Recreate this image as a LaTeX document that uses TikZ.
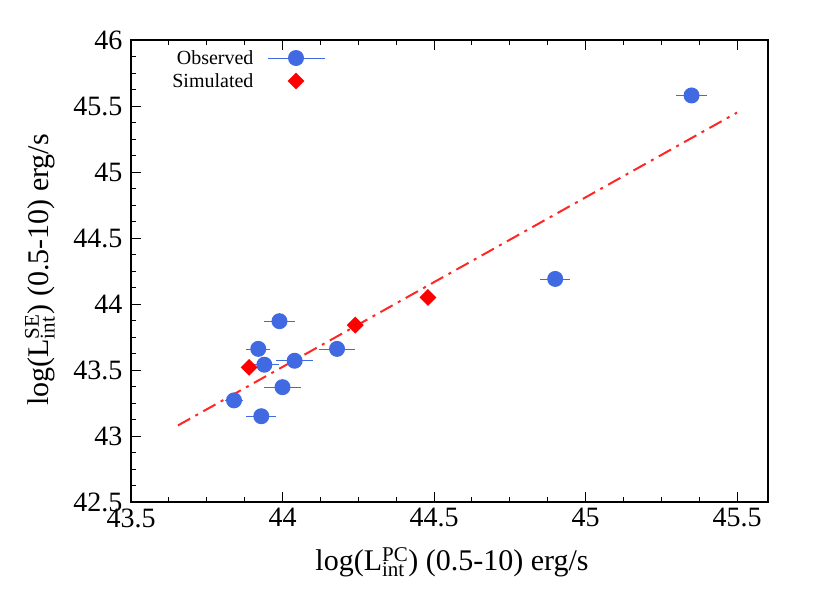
\documentclass[tikz,border=0pt]{standalone}
\usepackage{fontspec}
\setmainfont{Liberation Serif}
\begin{document}
\begin{tikzpicture}[x=1pt,y=-1pt,
  obs/.style={circle,fill=obsblue,inner sep=0pt,minimum size=16pt},
  sim/.style={diamond,fill=red,inner sep=0pt,minimum size=17pt},
  ebar/.style={draw=obsblue,line width=0.6pt},
  tick/.style={line width=1pt},
  ticklab/.style={font=\fontsize{28}{30}\selectfont}]
\usetikzlibrary{shapes.geometric}
\definecolor{obsblue}{RGB}{65,105,225}
\useasboundingbox (0,0) rectangle (830,606);
% mapping
\def\X#1{(#1-43.5)*303+131}
\def\Y#1{40+(46-#1)*132}
% ticks
\foreach \v/\l in {43.5/43.5,44/44,44.5/44.5,45/45,45.5/45.5}{
  \draw[tick] ({\X{\v}},502) -- ++(0,-10);
  \draw[tick] ({\X{\v}},40) -- ++(0,10);
  \node[ticklab,anchor=north] (xl\l) at ({\X{\v}},505) {\l};}
\foreach \v in {43.625,43.75,43.875,44.125,44.25,44.375,44.625,44.75,44.875,45.125,45.25,45.375}{
  \draw[tick] ({\X{\v}},502) -- ++(0,-5);
  \draw[tick] ({\X{\v}},40) -- ++(0,5);}
\foreach \v in {42.5,43,43.5,44,44.5,45,45.5,46}{
  \draw[tick] (131,{\Y{\v}}) -- ++(10,0);
  \node[ticklab,anchor=east] (yl\v) at (126,{\Y{\v}}) {\v};}
\foreach \v in {42.625,42.75,42.875,43.125,43.25,43.375,43.625,43.75,43.875,44.125,44.25,44.375,44.625,44.75,44.875,45.125,45.25,45.375,45.625,45.75,45.875}{
  \draw[tick] (131,{\Y{\v}}) -- ++(5,0);}
\draw[line width=1.6pt] (131,40) rectangle (768,502);
% fit line
\coordinate (f1) at ({\X{43.655}},{\Y{43.08}});
\coordinate (f2) at ({\X{45.50}},{\Y{45.45}});
\draw[red!85!white,line width=2pt,dash pattern=on 14pt off 6pt on 3pt off 6pt] (f1) -- (f2);
% observed
\foreach \i/\x/\y/\e in {1/45.35/45.58/0.05,2/44.90/44.19/0.05,3/43.99/43.87/0.05,4/43.92/43.66/0.04,5/43.94/43.54/0.05,6/44.04/43.57/0.06,7/44.18/43.66/0.06,8/44.00/43.37/0.06,9/43.84/43.27/0.03,10/43.93/43.15/0.05}{
  \draw[ebar] ({\X{\x-\e}},{\Y{\y}}) -- ({\X{\x+\e}},{\Y{\y}});
  \node[obs] (o\i) at ({\X{\x}},{\Y{\y}}) {};}
% simulated
\foreach \i/\x/\y in {1/43.89/43.52,2/44.24/43.84,3/44.48/44.05}{
  \node[sim] (s\i) at ({\X{\x}},{\Y{\y}}) {};}
% legend
\node[anchor=east,font=\fontsize{20}{22}\selectfont] (lo) at (257,58) {Observed};
\node[anchor=east,font=\fontsize{20}{22}\selectfont] (ls) at (257,81) {Simulated};
\coordinate (la) at (268,58); \coordinate (lb) at (325,58);
\draw[ebar] (la) -- (lb);
\node[obs] (lgo) at (296,58) {};
\node[sim] (lgs) at (296,81) {};
% axis labels
\node[font=\fontsize{30}{32}\selectfont] (xlab) at (452,562) {log(L$^{\mathrm{PC}}_{\mathrm{int}}$) (0.5-10) erg/s};
\node[font=\fontsize{30}{32}\selectfont,rotate=90] (ylab) at (40,270) {log(L$^{\mathrm{SE}}_{\mathrm{int}}$) (0.5-10) erg/s};
\end{tikzpicture}
\end{document}
